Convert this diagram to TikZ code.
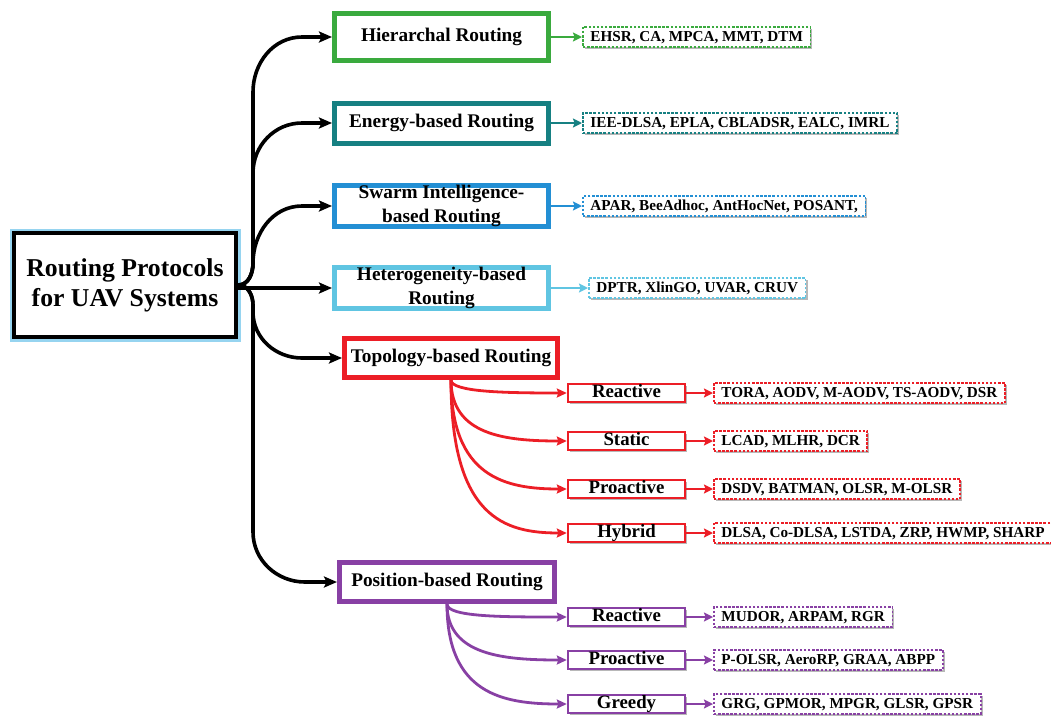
\documentclass[tikz,border=0pt]{standalone}
\usepackage{fontspec}
\setmainfont{Liberation Serif}
\usetikzlibrary{arrows.meta,shadows,calc}

\definecolor{cgreen}{RGB}{58,170,62}
\definecolor{cteal}{RGB}{22,128,130}
\definecolor{cblue}{RGB}{35,143,212}
\definecolor{clblue}{RGB}{96,197,226}
\definecolor{cred}{RGB}{236,30,38}
\definecolor{cpurple}{RGB}{136,64,164}
\definecolor{cglow}{RGB}{150,212,240}

\begin{document}
\begin{tikzpicture}[x=1pt,y=-1pt,
  shad/.style={drop shadow={shadow xshift=2pt,shadow yshift=-2pt,opacity=0.35,fill=black!80}},
  mainbox/.style={shad, preaction={draw=cglow,line width=9pt}, draw=black, fill=white,
    line width=4.5pt, minimum width=222pt, minimum height=104pt, inner sep=0pt,
    align=center, font=\fontsize{25.7}{30}\selectfont\bfseries},
  catbox/.style={shad, draw=#1, fill=white, line width=5pt, minimum width=214pt,
    inner sep=0pt, align=center, font=\fontsize{19.3}{24}\selectfont\bfseries},
  oneline/.style={text height=13.5pt, text depth=4.5pt},
  subbox/.style={shad, draw=#1, fill=white, line width=2.4pt, minimum width=117pt,
    minimum height=18pt, inner sep=0pt, text height=12pt, text depth=3pt,
    font=\fontsize{18.8}{20}\selectfont\bfseries},
  leafbox/.style={shad, draw=#1, fill=white, line width=1.9pt, dash pattern=on 2.5pt off 1.6pt,
    anchor=west, minimum height=20.5pt, inner xsep=7.5pt, inner ysep=0pt,
    text height=11pt, text depth=3pt, font=\fontsize{15.2}{17}\selectfont\bfseries},
  mainarrow/.style={draw=black, line width=3.6pt, line join=round,
    -{Stealth[length=13pt,width=11pt,inset=2.5pt]}},
  leafarrow/.style={draw=#1, line width=2.8pt, -{Stealth[length=9pt,width=9pt,inset=1.5pt]}},
  subarrow/.style={draw=#1, line width=2.8pt, -{Stealth[length=10pt,width=9pt,inset=1.5pt]}},
]
\useasboundingbox (0,0) rectangle (1051,718);

% root
\node[mainbox] (main) at (125,285) {Routing Protocols\\for UAV Systems};
\coordinate (trunk) at (253,285);

% categories
\node[catbox=cgreen, oneline, minimum height=47pt] (hier) at (441.5,37) {Hierarchal Routing};
\node[catbox=cteal, oneline, minimum height=40pt] (energy) at (441.5,123) {Energy-based Routing};
\node[catbox=cblue, minimum height=41pt] (swarm) at (441.5,206) {Swarm Intelligence-\\based Routing};
\node[catbox=clblue, minimum height=37pt] (hetero) at (441.5,288) {Heterogeneity-based\\Routing};
\node[catbox=cred, oneline, minimum width=213pt, minimum height=39pt] (topo) at (451,358) {Topology-based Routing};
\node[catbox=cpurple, oneline, minimum width=215pt, minimum height=39pt] (pos) at (447,582) {Position-based Routing};

% leaves of categories
\node[leafbox=cgreen] (hierL) at (582,37) {EHSR, CA, MPCA, MMT, DTM};
\node[leafbox=cteal] (energyL) at (582,123) {IEE-DLSA, EPLA, CBLADSR, EALC, IMRL};
\node[leafbox=cblue] (swarmL) at (582,206) {APAR, BeeAdhoc, AntHocNet, POSANT,};
\node[leafbox=clblue] (heteroL) at (588,288) {DPTR, XlinGO, UVAR, CRUV};

\draw[leafarrow=cgreen] (hier.east) -- (hierL.west);
\draw[leafarrow=cteal] (energy.east) -- (energyL.west);
\draw[leafarrow=cblue] (swarm.east) -- (swarmL.west);
\draw[leafarrow=clblue] (hetero.east) -- (heteroL.west);

% topology sub-boxes
\node[subbox=cred] (treac) at (626.5,393) {Reactive};
\node[subbox=cred] (tstat) at (626.5,441) {Static};
\node[subbox=cred] (tpro) at (626.5,489) {Proactive};
\node[subbox=cred] (thyb) at (626.5,533) {Hybrid};
\node[leafbox=cred] (treacL) at (713,393) {TORA, AODV, M-AODV, TS-AODV, DSR};
\node[leafbox=cred] (tstatL) at (713,441) {LCAD, MLHR, DCR};
\node[leafbox=cred] (tproL) at (713,489) {DSDV, BATMAN, OLSR, M-OLSR};
\node[leafbox=cred] (thybL) at (713,533) {DLSA, Co-DLSA, LSTDA, ZRP, HWMP, SHARP};

% position sub-boxes
\node[subbox=cpurple] (preac) at (626.5,617) {Reactive};
\node[subbox=cpurple] (ppro) at (626.5,660) {Proactive};
\node[subbox=cpurple] (pgre) at (626.5,704) {Greedy};
\node[leafbox=cpurple] (preacL) at (713,617) {MUDOR, ARPAM, RGR};
\node[leafbox=cpurple] (pproL) at (713,660) {P-OLSR, AeroRP, GRAA, ABPP};
\node[leafbox=cpurple] (pgreL) at (713,704) {GRG, GPMOR, MPGR, GLSR, GPSR};

% black connectors from root
\draw[mainarrow] (main.east) to[out=0,in=-90] ($(trunk)+(0,-22)$)
  -- ($(trunk|-hier.west)+(0,55)$) to[out=90,in=180] ($(hier.west)+(-30,0)$) -- (hier.west);
\draw[mainarrow] (main.east) to[out=0,in=-90] ($(trunk)+(0,-22)$)
  -- ($(trunk|-energy.west)+(0,50)$) to[out=90,in=180] ($(energy.west)+(-30,0)$) -- (energy.west);
\draw[mainarrow] (main.east) to[out=0,in=-90] ($(trunk)+(0,-22)$)
  to[out=90,in=180] ($(swarm.west)+(-30,0)$) -- (swarm.west);
\draw[mainarrow] (main.east |- hetero.west) -- (hetero.west);
\draw[mainarrow] (main.east) to[out=0,in=90] ($(trunk)+(0,20)$)
  -- ($(trunk|-topo.west)+(0,-46)$) to[out=-90,in=180] ($(topo.west)+(-40,0)$) -- (topo.west);
\draw[mainarrow] (main.east) to[out=0,in=90] ($(trunk)+(0,20)$)
  -- ($(trunk|-pos.west)+(0,-50)$) to[out=-90,in=180] ($(pos.west)+(-32,0)$) -- (pos.west);

% red connectors
\draw[subarrow=cred] (topo.south) to[out=-90,in=180,out distance=12pt,in distance=62pt] (treac.west);
\draw[subarrow=cred] (topo.south) to[out=-90,in=180,out distance=55pt,in distance=62pt] (tstat.west);
\draw[subarrow=cred] (topo.south) to[out=-90,in=180,out distance=97pt,in distance=62pt] (tpro.west);
\draw[subarrow=cred] (topo.south) to[out=-90,in=180,out distance=138pt,in distance=62pt] (thyb.west);
\draw[leafarrow=cred] (treac.east) -- (treacL.west);
\draw[leafarrow=cred] (tstat.east) -- (tstatL.west);
\draw[leafarrow=cred] (tpro.east) -- (tproL.west);
\draw[leafarrow=cred] (thyb.east) -- (thybL.west);

% purple connectors
\draw[subarrow=cpurple] (pos.south) to[out=-90,in=180,out distance=13pt,in distance=64pt] (preac.west);
\draw[subarrow=cpurple] (pos.south) to[out=-90,in=180,out distance=51pt,in distance=64pt] (ppro.west);
\draw[subarrow=cpurple] (pos.south) to[out=-90,in=180,out distance=90pt,in distance=64pt] (pgre.west);
\draw[leafarrow=cpurple] (preac.east) -- (preacL.west);
\draw[leafarrow=cpurple] (ppro.east) -- (pproL.west);
\draw[leafarrow=cpurple] (pgre.east) -- (pgreL.west);
\end{tikzpicture}
\end{document}
